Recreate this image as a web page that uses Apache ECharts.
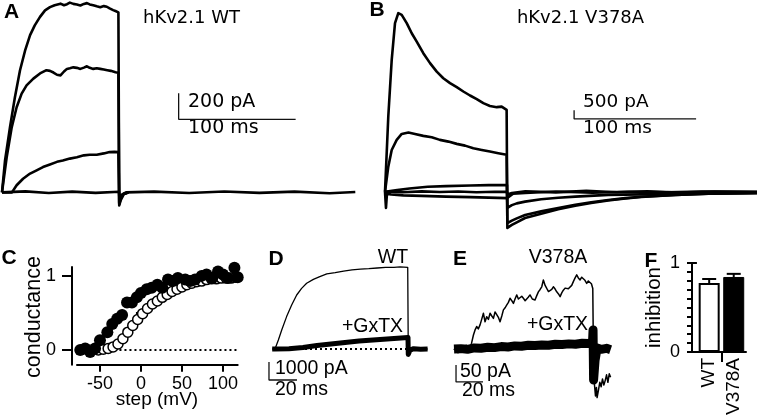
<!DOCTYPE html>
<html>
<head>
<meta charset="utf-8">
<script src="https://cdn.jsdelivr.net/npm/echarts@6.0.0/dist/echarts.min.js"></script>
<style>
  html, body { margin: 0; padding: 0; background: #fff; }
  #main { width: 757px; height: 417px; }
</style>
</head>
<body>
<div id="main"></div>
<script>
// A: hKv2.1 WT currents, [ms, pA]
const wtLarge = [[0,0],[2.6,246],[6.8,500],[11,730],[15.4,940],[19.7,1090],[24,1210],[28,1285],[32.5,1350],[36.8,1400],[41,1425],[45,1440],[50,1452],[53,1440],[55.6,1448],[58,1460],[61,1450],[64,1445],[67,1438],[70,1450],[72.6,1456],[75,1446],[78,1440],[81,1432],[84,1425],[87,1433],[89.6,1428],[92,1415],[95,1402],[97,1395],[99.5,1385],[100,1385],[100.2,-100],[101.5,-60],[104,-15],[108,0]];
const wtMid = [[0,0],[4,270],[8.3,500],[12.5,655],[16.8,760],[21,823],[26.8,875],[32.5,915],[38,940],[41,935],[44,922],[47,905],[50,900],[53,930],[55.5,950],[58,955],[61,962],[64,958],[67,950],[70,960],[72.6,970],[75,958],[78,950],[81,955],[84,950],[87,945],[90,940],[93,935],[95,930],[97,925],[99.5,920],[100,920],[100.2,-90],[101.5,-50],[104,-12],[108,0]];
const wtSmall = [[0,0],[8.5,0],[12.5,55],[18,105],[24,145],[29.6,170],[35,195],[41,215],[47,235],[52,245],[58,260],[64,270],[70,285],[75,290],[81,290],[87,300],[92,310],[96,312],[99.5,310],[100,310],[100.2,-80],[101.5,-40],[104,-10],[108,0]];
const wtBase = [[0,0],[20,8],[40,-5],[60,6],[80,-4],[100,5],[100.5,-60],[102,-20],[106,0],[130,6],[160,-5],[190,7],[220,-4],[250,6],[280,-6],[302,3]];

// B: hKv2.1 V378A currents, [ms, pA]
const vaTop = [[0,0],[2.7,4330],[5.5,7590],[8.2,9700],[10.9,10270],[13.7,10170],[17.8,9700],[21.9,9120],[26,8640],[31.4,7970],[36.9,7400],[42.4,6910],[47.8,6530],[53.3,6250],[58.8,6020],[64.2,5770],[69.7,5540],[75.2,5330],[80.6,5100],[86,4940],[91.6,4870],[95.6,4900],[99.7,4710],[100,4710],[100.3,-2070],[104,-1900],[108,-1750],[114.8,-1500],[128,-1250],[142,-1000],[156,-800],[169,-640],[183,-490],[197,-380],[210,-290],[238,-180],[265,-100],[305,-60]];
const vaMid = [[0,0],[2.7,1450],[5.5,2410],[9.6,2990],[13.7,3330],[19.2,3410],[24.6,3330],[31.4,3220],[38.3,3140],[45,2990],[52,2890],[58.8,2760],[65.6,2660],[72.4,2510],[79.3,2410],[86,2320],[92.9,2220],[99.7,2130],[100,2130],[100.3,-1800],[104,-1650],[108,-1520],[114.8,-1330],[128,-1120],[142,-920],[156,-740],[169,-600],[183,-470],[197,-360],[210,-280],[238,-170],[265,-100],[305,-50]];
const vaLow1 = [[0,0],[10,100],[20,200],[35,300],[50,330],[70,370],[85,390],[100,400],[100.3,-920],[104,-760],[108,-660],[114.8,-560],[128,-420],[142,-340],[156,-270],[183,-170],[210,-140],[238,-115],[270,-90],[305,-70]];
const vaLow2 = [[0,0],[15,-20],[30,30],[45,-10],[60,20],[75,-20],[90,10],[100,0],[100.3,-150],[104,-60],[115,40],[140,-30],[165,60],[190,-20],[215,30],[240,-40],[270,20],[305,-10]];
const vaLow3 = [[0,0],[0.8,-920],[1.6,-100],[5,-150],[15,-200],[30,-230],[50,-270],[70,-300],[85,-330],[100,-360],[100.3,-300],[105,-100],[115,-60],[140,20],[170,-40],[200,10],[230,-30],[260,20],[305,0]];

// C: normalized conductance vs step voltage, [mV, G/Gmax]
const gV378A = [[-74,0],[-68,0.02],[-62,-0.03],[-56,0.02],[-50,0.13],[-41,0.24],[-35,0.35],[-29,0.42],[-23,0.47],[-17,0.64],[-11,0.64],[-5,0.71],[0,0.77],[7,0.82],[13,0.84],[20,0.88],[26,0.84],[33,0.95],[39,0.93],[45,0.97],[54,0.95],[60,0.93],[66,0.95],[74,1.0],[80,1.02],[87,0.97],[94,1.06],[100,1.02],[106,0.97],[114,1.11],[118,0.98]];
const gWT = [[-52,0],[-46,0.01],[-40,0.02],[-34,0.04],[-28,0.08],[-22,0.15],[-16,0.24],[-10,0.33],[-4,0.41],[2,0.49],[8,0.56],[14,0.62],[20,0.66],[26,0.71],[32,0.75],[38,0.79],[44,0.82],[50,0.85],[56,0.88],[62,0.9],[68,0.92],[74,0.93],[80,0.95],[86,0.96],[92,0.96],[98,0.97],[104,0.97],[110,0.97],[116,0.98],[120,0.95]];
const gZero = [[-75,0],[118,0]];
const cTicksX = [-50, 0, 50, 100];

// D: WT control and +GxTX, [ms, pA]
const dWT = [[-2,0],[0,0],[2.4,500],[4.8,1060],[8.3,1800],[11.9,2440],[15.5,3000],[19,3370],[22.6,3650],[27.4,3870],[32,4020],[37,4170],[43,4240],[49,4330],[55,4390],[61,4440],[67,4460],[73,4500],[79,4540],[85,4540],[89.3,4560],[94.8,4540],[95,4540],[95.2,-330],[97,-120],[100,-20],[109,0]];
const dTx = [[-2,0],[0,0],[10,10],[20,80],[30,190],[40,280],[50,360],[60,440],[70,500],[80,560],[90,610],[95,640],[95.2,-300],[96.5,-60],[99,20],[104,-10],[109,0]];
const dZero = [[0,0],[95,0]];

// E: V378A control and +GxTX, [ms, pA]
const eVA = [[-3,0],[-1.5,12],[0,-8],[2,10],[4,-6],[6,14],[8,-4],[10,20],[11.4,44],[12.6,59],[13.8,69],[15,62],[16.3,74],[17.5,90],[18.8,108],[20,83],[21.2,98],[22.5,90],[23.7,108],[25,100],[26.2,93],[27.4,112],[28.6,108],[30,95],[31.1,83],[32.4,100],[33.6,118],[35,125],[36,132],[37.3,140],[38.5,152],[39.8,145],[41,137],[42.2,150],[43.5,162],[44.7,150],[46,147],[47.2,158],[48.4,152],[49.7,145],[50.9,142],[52,155],[53.3,162],[55,150],[57,147],[58.3,160],[59.5,171],[60.8,178],[62,186],[63.2,206],[64.5,190],[65.7,181],[67,172],[68.1,167],[69.4,178],[70.6,186],[71.8,180],[73.1,171],[74.4,165],[75.6,157],[76.8,168],[78,176],[79.3,182],[80.5,186],[81.7,180],[83,176],[84.2,190],[85.4,201],[86.7,212],[87.9,221],[89.1,212],[90.4,206],[91.6,214],[92.8,216],[94,205],[95.3,196],[96.5,203],[97.8,206],[98.8,195],[99.8,181],[100,181],[100.3,-20],[101,-100],[101.8,-135],[102.5,-110],[103,-140],[104,-118],[105,-95],[106,-108],[107,-85],[108,-103],[109,-90],[110,-73],[111,-95],[112,-70],[113,-80]];
const eTx = [[-3,3],[2,4],[7,2],[12,6],[17,5],[22,8],[27,7],[32,10],[37,9],[42,12],[47,11],[52,14],[57,13],[62,15],[67,14],[72,17],[77,16],[82,18],[87,17],[92,20],[97,19],[99.6,21],[100,59],[100.4,-88],[101.5,-30],[103,6],[106,2],[110,5],[113,1]];

// F: fractional inhibition by GxTX
const groups = ['WT', 'V378A'];
const inhibition = [0.775, 0.843];
const inhibitionSem = [0.045, 0.035];

// scale bars
const scaleA = { ms: 100, pA: 200 };
const scaleB = { ms: 100, pA: 500 };
const scaleD = { ms: 20, pA: 1000 };
const scaleE = { ms: 20, pA: 50 };

const font = 'DejaVu Sans';
const font2 = 'Liberation Sans';
const black = '#000';

function trace(xi, yi, data, width, z) {
  return {
    type: 'line', xAxisIndex: xi, yAxisIndex: yi, data: data,
    symbol: 'none', clip: false, silent: true, z: z || 2,
    lineStyle: { color: black, width: width, join: 'round' }
  };
}

function scaleBar(xi, yi, x0, y0, s) {
  return {
    type: 'line', xAxisIndex: xi, yAxisIndex: yi, symbol: 'none', silent: true, clip: false,
    data: [[x0, y0 + s.pA], [x0, y0], [x0 + s.ms, y0]],
    lineStyle: { color: '#111', width: 1.3 }
  };
}

function hidden(gi, min, max) {
  return { type: 'value', gridIndex: gi, min: min, max: max, show: false };
}

function txt(x, y, text, size, align, extra, family) {
  return Object.assign({
    type: 'text', x: x, y: y, silent: true,
    style: { text: text, fontSize: size, fontFamily: family || font, fill: black,
      align: align || 'left', verticalAlign: 'middle' }
  }, extra || {});
}

function letter(x, y, text) {
  return {
    type: 'text', x: x, y: y, silent: true,
    style: { text: text, fontSize: 21, fontWeight: 'bold', fontFamily: font2,
      fill: black, align: 'center', verticalAlign: 'middle' }
  };
}

const axLine = { show: true, onZero: false, lineStyle: { color: black, width: 2 } };
const tickStyle = { color: black, width: 2 };

const grids = [
  { left: 2, top: 0, width: 353.3, height: 218.4 },
  { left: 385, top: 0.5, width: 372.1, height: 243.6 },
  { left: 77, top: 267, width: 160.7, height: 97.7 },
  { left: 268, top: 259, width: 159.6, height: 126 },
  { left: 454, top: 265, width: 159.3, height: 136 },
  { left: 692, top: 263, width: 54, height: 89 }
].map(g => Object.assign(g, { containLabel: false, outerBoundsMode: 'none' }));

const option = {
  animation: false,
  backgroundColor: '#fff',
  textStyle: { fontFamily: font },
  grid: grids,
  xAxis: [
    hidden(0, 0, 302),
    hidden(1, 0, 305),
    {
      type: 'value', gridIndex: 2, min: -78, max: 118,
      axisLine: axLine,
      axisTick: { show: true, customValues: cTicksX, length: 7, lineStyle: tickStyle },
      axisLabel: { customValues: cTicksX, margin: 10, color: black, fontSize: 18, fontFamily: font2 },
      splitLine: { show: false }
    },
    hidden(3, -5, 109),
    hidden(4, -3, 115),
    {
      type: 'value', gridIndex: 5, min: -0.2, max: 2,
      axisLine: axLine,
      axisTick: { show: true, customValues: [1], length: 10, lineStyle: tickStyle },
      axisLabel: {
        customValues: groups.map((g, i) => i + 0.5), rotate: 90, margin: 6,
        color: black, fontSize: 19, fontFamily: font2,
        formatter: v => groups[Math.round(v - 0.5)]
      },
      splitLine: { show: false }
    }
  ],
  yAxis: [
    hidden(0, -200, 1480),
    hidden(1, -3000, 11000),
    {
      type: 'value', gridIndex: 2, min: -0.2, max: 1.12, position: 'left', offset: 5,
      axisLine: axLine,
      axisTick: { show: true, customValues: [0, 1], length: 10, lineStyle: tickStyle },
      axisLabel: { customValues: [0, 1], margin: 16, color: black, fontSize: 18, fontFamily: font2 },
      splitLine: { show: false }
    },
    {
      type: 'value', gridIndex: 2, min: -0.2, max: 1.12, position: 'left', offset: 5,
      axisLine: { show: false },
      axisTick: { show: true, customValues: [0.5], length: 5, lineStyle: tickStyle },
      axisLabel: { show: false }, splitLine: { show: false }
    },
    hidden(3, -2000, 5000),
    hidden(4, -150, 250),
    {
      type: 'value', gridIndex: 5, min: 0, max: 1, interval: 0.1, position: 'left',
      axisLine: axLine,
      axisTick: { show: true, length: 5, lineStyle: tickStyle },
      axisLabel: { customValues: [0, 1], margin: 12, color: black, fontSize: 18, fontFamily: font2 },
      splitLine: { show: false }
    },
    {
      type: 'value', gridIndex: 5, min: 0, max: 1, position: 'left',
      axisLine: { show: false },
      axisTick: { show: true, customValues: [0, 1], length: 9, lineStyle: tickStyle },
      axisLabel: { show: false }, splitLine: { show: false }
    }
  ],
  series: [
    // A
    trace(0, 0, wtBase, 2.6),
    trace(0, 0, wtSmall, 2.6),
    trace(0, 0, wtMid, 2.6),
    trace(0, 0, wtLarge, 2.6),
    scaleBar(0, 0, 151, 562, scaleA),
    // B
    trace(1, 1, vaLow2, 2.6),
    trace(1, 1, vaLow3, 2.6),
    trace(1, 1, vaLow1, 2.6),
    trace(1, 1, vaMid, 2.6),
    trace(1, 1, vaTop, 2.6),
    scaleBar(1, 1, 155, 4195, scaleB),
    // C
    {
      type: 'line', xAxisIndex: 2, yAxisIndex: 2, data: gZero, symbol: 'none', silent: true,
      lineStyle: { color: black, width: 2, type: [2, 3] }, z: 1
    },
    {
      type: 'scatter', xAxisIndex: 2, yAxisIndex: 2, data: gWT, symbol: 'circle', symbolSize: 10,
      itemStyle: { color: '#fff', borderColor: black, borderWidth: 1.5, opacity: 1 }, z: 3, silent: true
    },
    {
      type: 'scatter', xAxisIndex: 2, yAxisIndex: 2, data: gV378A, symbol: 'circle', symbolSize: 12,
      itemStyle: { color: black, opacity: 1 }, z: 4, silent: true
    },
    // D
    {
      type: 'line', xAxisIndex: 3, yAxisIndex: 4, data: dZero, symbol: 'none', silent: true,
      lineStyle: { color: black, width: 2, type: [2, 3] }, z: 1
    },
    trace(3, 4, dWT, 1.3),
    trace(3, 4, dTx, 5),
    scaleBar(3, 4, -4.3, -1722, scaleD),
    // E
    trace(4, 5, eVA, 1.5),
    trace(4, 5, eTx, 9),
    scaleBar(4, 5, -1.5, -94, scaleE),
    // F
    {
      type: 'bar', xAxisIndex: 5, yAxisIndex: 6, barWidth: 21, silent: true, z: 2,
      data: inhibition.map((v, i) => ({
        value: [i + 0.5, v],
        itemStyle: i === 0
          ? { color: '#fff', borderColor: black, borderWidth: 2 }
          : { color: black, borderColor: black, borderWidth: 1 }
      }))
    },
    {
      type: 'custom', xAxisIndex: 5, yAxisIndex: 6, silent: true, z: 3,
      data: inhibition.map((v, i) => [i + 0.5, v, v + inhibitionSem[i]]),
      renderItem: function (params, api) {
        const lo = api.coord([api.value(0), api.value(1)]);
        const hi = api.coord([api.value(0), api.value(2)]);
        const w = 7;
        return {
          type: 'group',
          children: [
            { type: 'line', shape: { x1: lo[0], y1: lo[1], x2: hi[0], y2: hi[1] }, style: { stroke: black, lineWidth: 2 } },
            { type: 'line', shape: { x1: hi[0] - w, y1: hi[1], x2: hi[0] + w, y2: hi[1] }, style: { stroke: black, lineWidth: 2 } }
          ]
        };
      }
    }
  ],
  graphic: [
    letter(11.5, 12.5, 'A'),
    letter(377, 10, 'B'),
    letter(9, 258, 'C'),
    letter(276, 259, 'D'),
    letter(460, 259, 'E'),
    letter(651, 261, 'F'),
    txt(191.5, 18, 'hKv2.1 WT', 18, 'center'),
    txt(580.5, 18.5, 'hKv2.1 V378A', 18, 'center'),
    txt(188, 102, scaleA.pA + ' pA', 19),
    txt(188, 128, scaleA.ms + ' ms', 19),
    txt(583, 102, scaleB.pA + ' pA', 18.5),
    txt(583, 128, scaleB.ms + ' ms', 18.5),
    txt(34, 317, 'conductance', 21.5, 'center', { rotation: Math.PI / 2 }, font2),
    txt(157, 400, 'step (mV)', 19, 'center', null, font2),
    txt(393, 258, 'WT', 19.5, 'center', null, font2),
    txt(372.5, 327, '+GxTX', 19.5, 'center', null, font2),
    txt(275, 369, scaleD.pA + ' pA', 19.5, 'left', null, font2),
    txt(275, 390, scaleD.ms + ' ms', 19.5, 'left', null, font2),
    txt(558, 258, 'V378A', 19.5, 'center', null, font2),
    txt(557.5, 325, '+GxTX', 19.5, 'center', null, font2),
    txt(460, 372, scaleE.pA + ' pA', 19.5, 'left', null, font2),
    txt(462, 391, scaleE.ms + ' ms', 19.5, 'left', null, font2),
    txt(654, 307.5, 'inhibition', 20.5, 'center', { rotation: Math.PI / 2 }, font2)
  ]
};

const chart = echarts.init(document.getElementById('main'), null, { renderer: 'canvas' });
chart.setOption(option);
</script>
</body>
</html>
